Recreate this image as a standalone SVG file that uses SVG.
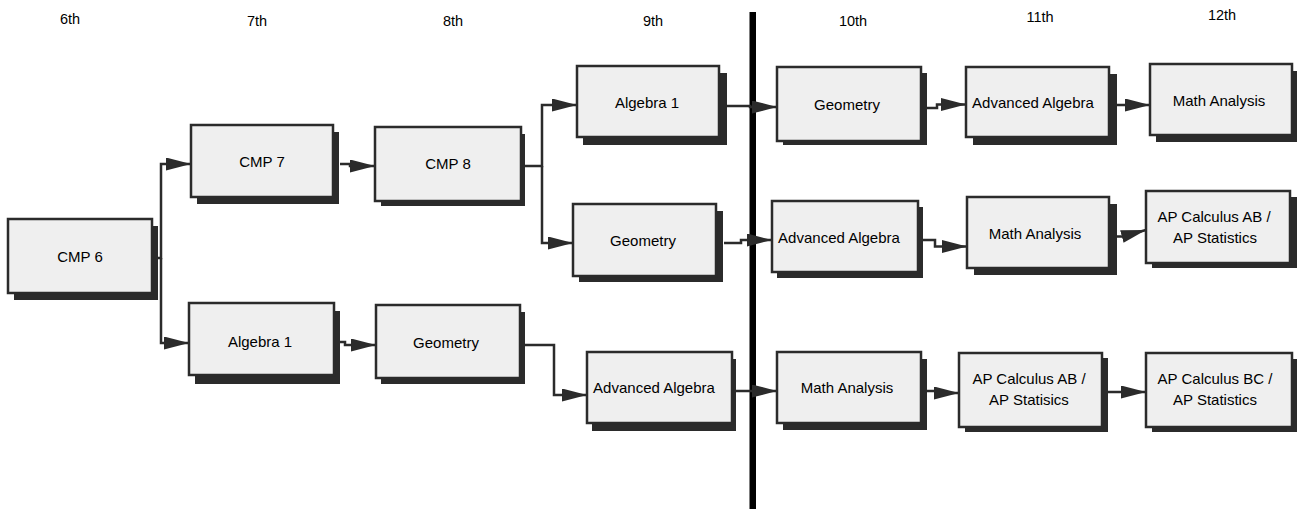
<svg xmlns="http://www.w3.org/2000/svg" width="1297" height="509" viewBox="0 0 1297 509">
<style>
.hdr{font-family:"Liberation Sans",Arial,sans-serif;font-size:14.5px;fill:#000;text-anchor:middle}
.lbl{font-family:"Liberation Sans",Arial,sans-serif;font-size:15px;fill:#000;text-anchor:middle}
.box{fill:#efefef;stroke:#2b2b2b;stroke-width:2.5}
.sh{fill:#2b2b2b}
.con{fill:none;stroke:#2b2b2b;stroke-width:2.5;marker-end:url(#ah)}
</style>
<defs>
<marker id="ah" markerUnits="userSpaceOnUse" markerWidth="26" markerHeight="13" refX="25" refY="6.5" orient="auto">
<path d="M0,0 L25,6.5 L0,13 z" fill="#2b2b2b"/>
</marker>
</defs>
<rect width="1297" height="509" fill="#fff"/>
<g id="headers">
<text class="hdr" x="70" y="24">6th</text>
<text class="hdr" x="257" y="26">7th</text>
<text class="hdr" x="453" y="26">8th</text>
<text class="hdr" x="653" y="26">9th</text>
<text class="hdr" x="853" y="26">10th</text>
<text class="hdr" x="1040" y="22">11th</text>
<text class="hdr" x="1222" y="20">12th</text>
</g>
<rect id="divider" x="749.5" y="12" width="6.5" height="497" fill="#000"/>
<g id="connectors">
<path class="con" d="M156,258 H161 V164 H191"/>
<path class="con" d="M161,258 V343 H189"/>
<path class="con" d="M340,164 H350 V166 H375"/>
<path class="con" d="M524,166 H542 V105 H577"/>
<path class="con" d="M542,166 V243 H573"/>
<path class="con" d="M727,106 H750 V107 H777"/>
<path class="con" d="M724,243 H741 V240 H772"/>
<path class="con" d="M927,108 H937 V104.5 H966"/>
<path class="con" d="M1117,105 H1150"/>
<path class="con" d="M923,240 H935 V246.5 H967"/>
<path class="con" d="M1117,236.5 H1122 L1146,230"/>
<path class="con" d="M340,342 H345 V345 H376"/>
<path class="con" d="M525,345 H554 V395 H587"/>
<path class="con" d="M736,391 H777"/>
<path class="con" d="M927,391 H936 V393 H959"/>
<path class="con" d="M1108,392 H1146"/>
</g>
<g id="cmp6"><rect class="sh" x="14" y="226" width="144" height="74"/><rect class="box" x="8" y="219" width="144" height="74"/><text class="lbl" x="80" y="262">CMP 6</text></g>
<g id="cmp7"><rect class="sh" x="197" y="132" width="142" height="72"/><rect class="box" x="191" y="125" width="142" height="72"/><text class="lbl" x="262" y="167">CMP 7</text></g>
<g id="cmp8"><rect class="sh" x="381" y="134" width="144" height="72"/><rect class="box" x="375" y="127" width="146" height="74"/><text class="lbl" x="448" y="169">CMP 8</text></g>
<g id="alg1-9"><rect class="sh" x="583" y="73" width="144" height="72"/><rect class="box" x="577" y="66" width="142" height="71"/><text class="lbl" x="647" y="108">Algebra 1</text></g>
<g id="geom-9"><rect class="sh" x="579" y="211" width="144" height="71"/><rect class="box" x="573" y="204" width="143" height="72"/><text class="lbl" x="643" y="246">Geometry</text></g>
<g id="alg1-7"><rect class="sh" x="195" y="311" width="145" height="73"/><rect class="box" x="189" y="303" width="145" height="72"/><text class="lbl" x="260" y="347">Algebra 1</text></g>
<g id="geom-8"><rect class="sh" x="381" y="312" width="144" height="72"/><rect class="box" x="376" y="305" width="144" height="73"/><text class="lbl" x="446" y="348">Geometry</text></g>
<g id="advalg-9"><rect class="sh" x="592" y="359" width="144" height="72"/><rect class="box" x="587" y="352" width="145" height="71"/><text class="lbl" x="654" y="393">Advanced Algebra</text></g>
<g id="geom-10"><rect class="sh" x="783" y="73" width="144" height="72"/><rect class="box" x="777" y="67" width="144" height="74"/><text class="lbl" x="847" y="110">Geometry</text></g>
<g id="advalg-10"><rect class="sh" x="777" y="207" width="146" height="71"/><rect class="box" x="772" y="201" width="146" height="71"/><text class="lbl" x="839" y="243">Advanced Algebra</text></g>
<g id="mathan-10"><rect class="sh" x="783" y="359" width="144" height="71"/><rect class="box" x="777" y="352" width="144" height="71"/><text class="lbl" x="847" y="393">Math Analysis</text></g>
<g id="advalg-11"><rect class="sh" x="973" y="74" width="144" height="71"/><rect class="box" x="966" y="67" width="143" height="70"/><text class="lbl" x="1033" y="108">Advanced Algebra</text></g>
<g id="mathan-11"><rect class="sh" x="974" y="204" width="143" height="71"/><rect class="box" x="967" y="197" width="142" height="71"/><text class="lbl" x="1035" y="239">Math Analysis</text></g>
<g id="apcalcab-11"><rect class="sh" x="965" y="358" width="143" height="74"/><rect class="box" x="959" y="353" width="143" height="74"/><text class="lbl" x="1029" y="384">AP Calculus AB /</text><text class="lbl" x="1029" y="405">AP Statisics</text></g>
<g id="mathan-12"><rect class="sh" x="1156" y="71" width="142" height="71"/><rect class="box" x="1150" y="64" width="142" height="71"/><text class="lbl" x="1219" y="106">Math Analysis</text></g>
<g id="apcalcab-12"><rect class="sh" x="1152" y="197" width="145" height="71"/><rect class="box" x="1146" y="191" width="144" height="72"/><text class="lbl" x="1214" y="222">AP Calculus AB /</text><text class="lbl" x="1215" y="243">AP Statistics</text></g>
<g id="apcalcbc-12"><rect class="sh" x="1152" y="359" width="146" height="73"/><rect class="box" x="1146" y="353" width="146" height="74"/><text class="lbl" x="1215" y="384">AP Calculus BC /</text><text class="lbl" x="1215" y="405">AP Statistics</text></g>
</svg>
